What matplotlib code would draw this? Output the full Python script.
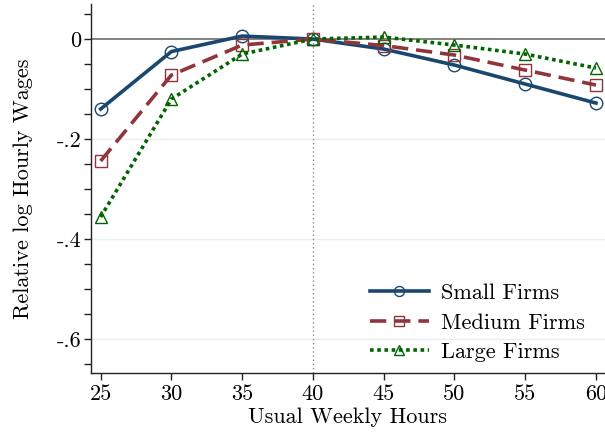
import matplotlib
matplotlib.use("Agg")
import matplotlib.pyplot as plt
from matplotlib.ticker import FixedLocator

plt.rcParams['font.family'] = 'serif'
plt.rcParams['font.serif'] = ['cmr10', 'DejaVu Serif']
plt.rcParams['mathtext.fontset'] = 'cm'
plt.rcParams['axes.unicode_minus'] = False

hours = [25, 30, 35, 40, 45, 50, 55, 60]
small = [-0.140, -0.025, 0.006, 0.0, -0.020, -0.052, -0.090, -0.128]
medium = [-0.244, -0.072, -0.012, 0.0, -0.013, -0.032, -0.062, -0.092]
large = [-0.356, -0.120, -0.030, 0.0, 0.004, -0.012, -0.030, -0.058]
yticks = [0, -0.2, -0.4, -0.6]
ytick_labels = ['0', '-.2', '-.4', '-.6']
xticks = [25, 30, 35, 40, 45, 50, 55, 60]

fig = plt.figure(figsize=(6.05, 4.32), dpi=100)
ax = fig.add_axes([0.150, 0.1366, 0.850, 0.854])

for y in [-0.2, -0.4, -0.6]:
    ax.axhline(y, color='#e8f0f2', lw=1.0, zorder=0)
ax.axhline(0, color='#6e6e6e', lw=1.2, zorder=1)
ax.axvline(40, color='#8a8a8a', lw=1.0, ls=(0, (1, 2)), zorder=1)

ax.plot(hours, small, color='#1a476f', lw=2.6, marker='o', ms=9,
        mfc='none', mec='#1a476f', mew=1.0, label='Small Firms', zorder=3)
ax.plot(hours, medium, color='#90353b', lw=2.6, ls=(0, (4.5, 2.2)), marker='s', ms=9,
        mfc='none', mec='#90353b', mew=1.0, label='Medium Firms', zorder=3)
ax.plot(hours, large, color='#006400', lw=2.6, ls=(0, (1, 1)), marker='^', ms=9,
        mfc='none', mec='#006400', mew=1.0, label='Large Firms', zorder=3)

ax.set_xlim(24.3, 60.64)
ax.set_ylim(-0.668, 0.07)
ax.set_xticks(xticks)
ax.set_yticks(yticks)
ax.set_yticklabels(ytick_labels)
ax.yaxis.set_minor_locator(FixedLocator([0.05, -0.05, -0.1, -0.15, -0.25, -0.3, -0.35,
                                         -0.45, -0.5, -0.55, -0.65]))
ax.tick_params(axis='both', which='both', direction='out', length=5, width=1.0,
               labelsize=16, color='#222222')
ax.tick_params(axis='x', pad=3)
ax.tick_params(axis='y', pad=2)

for s in ['top', 'right']:
    ax.spines[s].set_visible(False)
for s in ['left', 'bottom']:
    ax.spines[s].set_linewidth(1.0)
    ax.spines[s].set_color('#222222')

ax.set_xlabel('Usual Weekly Hours', fontsize=16, labelpad=3)
ax.set_ylabel('Relative log Hourly Wages', fontsize=16, labelpad=17)

leg = ax.legend(loc='lower right', frameon=False, fontsize=16, handlelength=2.65,
                handletextpad=0.55, labelspacing=0.45, markerscale=0.8,
                bbox_to_anchor=(1.0, -0.025))

fig.savefig('out.png', dpi=100)
